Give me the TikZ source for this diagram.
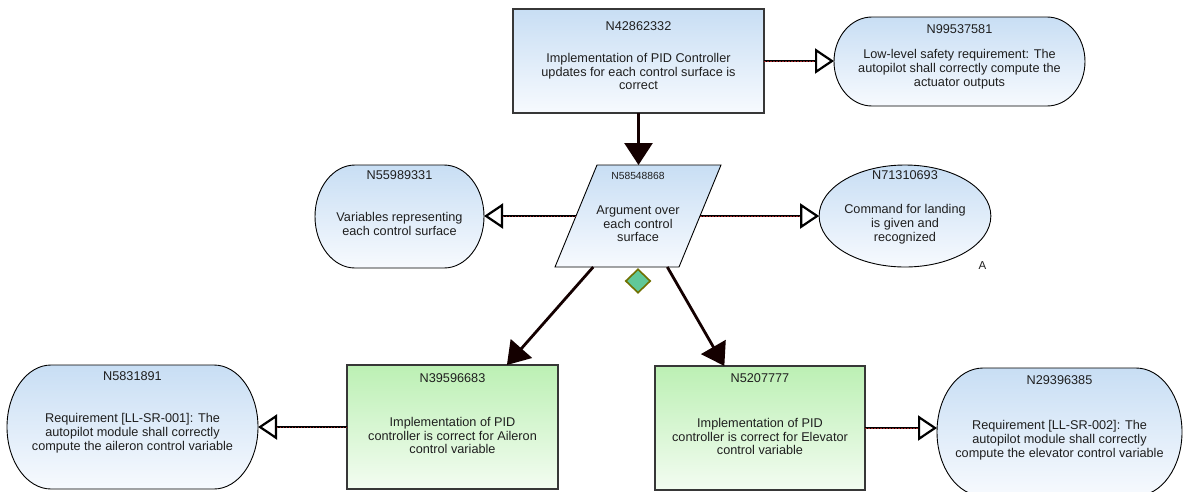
\documentclass[tikz,border=0pt]{standalone}
\usepackage{fontspec}
\setmainfont{Liberation Sans}
\usetikzlibrary{arrows.meta,shapes.geometric,calc}
\pgfdeclarelayer{bg}
\pgfsetlayers{bg,main}

\definecolor{goaltop}{RGB}{200,222,244}
\definecolor{goalbot}{RGB}{247,250,254}
\definecolor{soltop}{RGB}{188,240,180}
\definecolor{solbot}{RGB}{243,252,241}
\definecolor{linkred}{RGB}{150,35,35}
\definecolor{boxedge}{RGB}{55,55,55}
\definecolor{gemfill}{RGB}{96,200,152}
\definecolor{gemedge}{RGB}{112,112,0}

% stadium outline with elliptic ends drawn around a named node
\newcommand\pillshape[2]{%
  \path[pillskin] let \p1=(#1.north west), \p2=(#1.south east),
      \n1={(\y1-\y2)/2} in
    (\x1+#2,\y1) -- (\x2-#2,\y1)
    arc[start angle=90, end angle=-90, x radius=#2, y radius={\n1*1pt}]
    -- (\x1+#2,\y2)
    arc[start angle=270, end angle=90, x radius=#2, y radius={\n1*1pt}]
    -- cycle;}

\tikzset{
  txt/.style={font=\fontsize{12.7}{13.7}\selectfont, align=center, text=black!88},
  idlab/.style={anchor=center, inner sep=0pt, font=\fontsize{12.7}{13.7}\selectfont, text=black!88},
  textdrop/.style={text height=#1},
  goalbox/.style={txt, rectangle, draw=boxedge, line width=1.2pt,
    top color=goaltop, bottom color=goalbot, inner sep=0pt, outer sep=0pt},
  solbox/.style={txt, rectangle, draw=boxedge, line width=1.2pt,
    top color=soltop, bottom color=solbot, inner sep=0pt, outer sep=0pt},
  pill/.style={txt, rectangle, inner sep=0pt, outer sep=0pt},
  pillskin/.style={draw=black, line width=0.9pt, top color=goaltop, bottom color=goalbot},
  ctxnode/.style={txt, ellipse, draw=black, line width=0.9pt,
    top color=goaltop, bottom color=goalbot, inner sep=0pt, outer sep=0pt},
  ctx/.style={line width=2.8pt, draw=black,
    -{Triangle[length=19pt,width=25pt,fill=white,line width=2.2pt]},
    postaction={draw=linkred, line width=0.7pt, arrows=-,
      dash pattern=on 1.5pt off 1.5pt, shorten >=19pt}},
  sol/.style={line width=2.8pt, draw=black!92!red,
    -{Triangle[length=22pt,width=28pt]}},
}

\begin{document}
\begin{tikzpicture}[x=1pt, y=-1pt]
\useasboundingbox (0,0) rectangle (1184,491);
\begin{pgfonlayer}{bg}
  \fill[white] (0,0) rectangle (1184,491);
\end{pgfonlayer}
\clip (0,0) rectangle (1184,491);

% goals and strategy
\node[goalbox, minimum width=251pt, minimum height=104pt, textdrop=58pt,
  label={[idlab,yshift=-17pt]north:N42862332}] (g1) at (638.5,61)
  {Implementation of PID Controller\\updates for each control surface is\\correct};

\node[pill, minimum width=251pt, minimum height=89pt, textdrop=52pt,
  label={[idlab,yshift=-12pt]north:N99537581}] (n99) at (959.5,61.5)
  {Low-level safety requirement: The\\autopilot shall correctly compute the\\actuator outputs};

\node[pill, minimum width=124pt, minimum height=102pt, textdrop=52pt,
  label={[idlab,yshift=-11pt,font=\fontsize{10.3}{12}\selectfont]north:N58548868}] (par) at (638,216)
  {Argument over\\each control\\surface};

\node[pill, minimum width=169pt, minimum height=103pt, textdrop=37.5pt,
  label={[idlab,yshift=-10pt]north:N55989331}] (n559) at (399.5,216.5)
  {Variables representing\\each control surface};

\node[ctxnode, minimum width=170pt, minimum height=102pt, textdrop=53pt,
  label={[idlab,yshift=-10pt]north:N71310693}] (n713) at (905,216)
  {Command for landing\\is given and\\recognized};

\node[font=\fontsize{11.5}{13}\selectfont, text=black!88, inner sep=0pt] (mark) at (982.5,265.5) {A};

\node[diamond, draw=gemedge, fill=gemfill, line width=1.6pt, minimum width=25pt,
  minimum height=24pt, inner sep=0pt] (gem) at (638,281) {};

% solutions and their requirements
\node[solbox, minimum width=211pt, minimum height=124pt, textdrop=54pt,
  label={[idlab,yshift=-13pt]north:N39596683}] (s1) at (452.5,427)
  {Implementation of PID\\controller is correct for Aileron\\control variable};

\node[solbox, minimum width=210pt, minimum height=124pt, textdrop=54pt,
  label={[idlab,yshift=-12pt]north:N5207777}] (s2) at (760,428)
  {Implementation of PID\\controller is correct for Elevator\\control variable};

\node[pill, minimum width=251pt, minimum height=124pt, textdrop=49pt,
  label={[idlab,yshift=-11pt]north:N5831891}] (n583) at (132.5,427)
  {Requirement [LL-SR-001]: The\\autopilot module shall correctly\\compute the aileron control variable};

\node[pill, minimum width=245pt, minimum height=128pt, textdrop=53pt,
  label={[idlab,yshift=-12pt]north:N29396385}] (n293) at (1059.5,432)
  {Requirement [LL-SR-002]: The\\autopilot module shall correctly\\compute the elevator control variable};

% shaded outlines behind the texts
\begin{pgfonlayer}{bg}
  \pillshape{n99}{38pt}
  \pillshape{n559}{40pt}
  \pillshape{n583}{44pt}
  \pillshape{n293}{46pt}
  \path[pillskin] ([xshift=21pt]par.north west) -- ([xshift=21pt]par.north east)
    -- ([xshift=-21pt]par.south east) -- ([xshift=-21pt]par.south west) -- cycle;
\end{pgfonlayer}

% connectors
\draw[sol] (g1.south) -- (g1.south |- par.north);
\draw[sol] (par) -- (s1);
\draw[sol] (par) -- (s2);

\draw[ctx] (g1.east) -- (g1.east -| n99.west);
\draw[ctx] (par.west) -- (par.west -| n559.east);
\draw[ctx] (par.east) -- (par.east -| n713.west);
\draw[ctx] (s1.west) -- (s1.west -| n583.east);
\draw[ctx] (s2.east) -- (s2.east -| n293.west);
\end{tikzpicture}
\end{document}
